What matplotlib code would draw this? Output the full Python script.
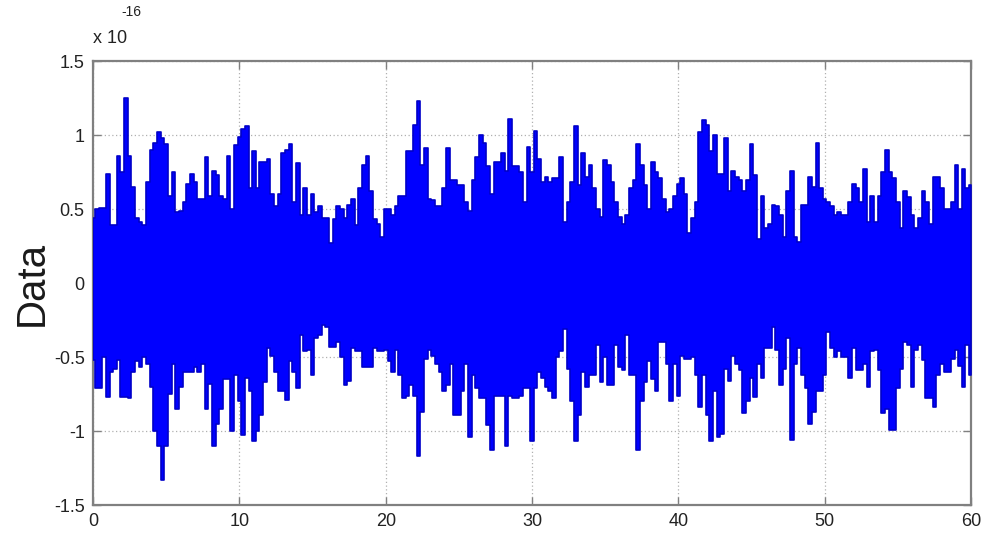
import numpy as np
import matplotlib
matplotlib.use("Agg")
import matplotlib.pyplot as plt

# sample positions (time), step 0.25 from 0 to 60
t_start, t_stop, t_step = 0.0, 60.0, 0.25

# upper envelope of the signal (units of 1e-16)
upper = [
    0.44, 0.5, 0.51, 0.51, 0.74, 0.39, 0.39, 0.86, 0.75, 1.25,
    0.86, 0.65, 0.44, 0.41, 0.39, 0.68, 0.9, 0.95, 1.02, 0.98,
    0.94, 0.59, 0.75, 0.48, 0.49, 0.55, 0.67, 0.74, 0.68, 0.57,
    0.57, 0.85, 0.59, 0.76, 0.73, 0.59, 0.57, 0.86, 0.5, 0.93,
    0.99, 1.04, 1.06, 0.64, 0.89, 0.64, 0.82, 0.82, 0.84, 0.6,
    0.52, 0.6, 0.88, 0.9, 0.94, 0.55, 0.81, 0.46, 0.64, 0.46,
    0.6, 0.48, 0.52, 0.44, 0.44, 0.27, 0.43, 0.52, 0.5, 0.44,
    0.53, 0.57, 0.39, 0.64, 0.8, 0.86, 0.62, 0.43, 0.4, 0.31,
    0.5, 0.5, 0.46, 0.52, 0.59, 0.59, 0.89, 0.89, 1.07, 1.23,
    0.8, 0.91, 0.57, 0.56, 0.52, 0.52, 0.64, 0.91, 0.7, 0.7,
    0.66, 0.66, 0.55, 0.49, 0.7, 0.85, 1.0, 0.95, 0.79, 0.6,
    0.82, 0.82, 0.88, 0.76, 1.11, 0.79, 0.79, 0.75, 0.55, 0.92,
    0.75, 1.03, 0.84, 0.68, 0.72, 0.68, 0.71, 0.71, 0.85, 0.41,
    0.55, 0.68, 1.06, 0.66, 0.88, 0.72, 0.8, 0.64, 0.5, 0.45,
    0.83, 0.8, 0.68, 0.55, 0.45, 0.4, 0.46, 0.64, 0.7, 0.94,
    0.8, 0.66, 0.5, 0.82, 0.75, 0.71, 0.57, 0.48, 0.5, 0.59,
    0.67, 0.71, 0.6, 0.34, 0.44, 0.55, 1.02, 1.1, 1.07, 0.89,
    1.0, 0.74, 0.74, 0.98, 0.62, 0.76, 0.72, 0.7, 0.62, 0.7,
    0.94, 0.73, 0.3, 0.59, 0.37, 0.4, 0.53, 0.52, 0.46, 0.31,
    0.62, 0.76, 0.31, 0.28, 0.53, 0.53, 0.72, 0.65, 0.95, 0.64,
    0.57, 0.55, 0.52, 0.46, 0.48, 0.46, 0.46, 0.55, 0.67, 0.64,
    0.55, 0.77, 0.41, 0.59, 0.41, 0.59, 0.75, 0.9, 0.75, 0.71,
    0.55, 0.37, 0.62, 0.58, 0.46, 0.37, 0.44, 0.62, 0.55, 0.4,
    0.72, 0.72, 0.64, 0.5, 0.5, 0.55, 0.8, 0.5, 0.77, 0.64,
    0.66,
]

# lower envelope of the signal (units of 1e-16)
lower = [
    -0.52, -0.71, -0.71, -0.5, -0.77, -0.6, -0.58, -0.52, -0.77, -0.77,
    -0.78, -0.6, -0.53, -0.57, -0.5, -0.55, -0.7, -1.0, -1.1, -1.33,
    -1.1, -0.75, -0.55, -0.85, -0.7, -0.6, -0.6, -0.6, -0.57, -0.6,
    -0.55, -0.85, -0.68, -1.1, -0.95, -0.85, -0.65, -0.65, -1.0, -0.62,
    -0.8, -1.03, -0.64, -0.73, -1.07, -1.0, -0.89, -0.67, -0.44, -0.49,
    -0.6, -0.73, -0.73, -0.79, -0.53, -0.6, -0.71, -0.35, -0.46, -0.45,
    -0.62, -0.37, -0.35, -0.28, -0.3, -0.43, -0.43, -0.4, -0.5, -0.69,
    -0.66, -0.44, -0.46, -0.46, -0.57, -0.57, -0.57, -0.44, -0.46, -0.46,
    -0.45, -0.53, -0.6, -0.45, -0.62, -0.78, -0.76, -0.69, -0.76, -1.17,
    -0.87, -0.51, -0.45, -0.49, -0.55, -0.6, -0.73, -0.69, -0.55, -0.89,
    -0.89, -0.73, -0.55, -1.04, -0.62, -0.71, -0.78, -0.78, -0.96, -1.13,
    -0.76, -0.76, -0.76, -1.1, -0.76, -0.78, -0.78, -0.76, -0.71, -0.71,
    -1.07, -0.71, -0.6, -0.64, -0.7, -0.73, -0.78, -0.5, -0.46, -0.31,
    -0.58, -0.8, -1.07, -0.89, -0.6, -0.7, -0.62, -0.62, -0.42, -0.67,
    -0.5, -0.69, -0.69, -0.42, -0.57, -0.59, -0.35, -0.62, -0.62, -1.13,
    -0.8, -0.67, -0.53, -0.65, -0.73, -0.4, -0.4, -0.55, -0.8, -0.55,
    -0.76, -0.49, -0.51, -0.51, -0.5, -0.62, -0.84, -0.62, -0.89, -1.07,
    -0.73, -1.04, -1.02, -0.58, -0.66, -0.49, -0.55, -0.59, -0.88, -0.8,
    -0.64, -0.77, -0.55, -0.64, -0.44, -0.44, -0.3, -0.45, -0.69, -0.58,
    -0.37, -1.06, -0.55, -0.44, -0.62, -0.71, -0.95, -0.87, -0.73, -0.73,
    -0.62, -0.33, -0.44, -0.5, -0.46, -0.5, -0.5, -0.64, -0.44, -0.59,
    -0.59, -0.55, -0.7, -0.46, -0.45, -0.59, -0.88, -0.85, -0.99, -0.99,
    -0.71, -0.58, -0.4, -0.42, -0.7, -0.45, -0.42, -0.52, -0.78, -0.78,
    -0.84, -0.62, -0.55, -0.6, -0.6, -0.51, -0.45, -0.56, -0.7, -0.42,
    -0.62,
]

x_ticks = [0, 10, 20, 30, 40, 50, 60]
y_ticks = [-1.5, -1, -0.5, 0, 0.5, 1, 1.5]
y_tick_labels = ["-1.5", "-1", "-0.5", "0", "0.5", "1", "1.5"]
y_label = "Data"

t = np.arange(t_start, t_stop + t_step / 2, t_step)
hi = np.array(upper)
lo = np.array(lower)

plt.rcParams['font.family'] = ['Liberation Sans', 'DejaVu Sans']

fig = plt.figure(figsize=(9.92, 5.5), dpi=100)
ax = fig.add_axes([0.0938, 0.0818, 0.885, 0.807])

ax.fill_between(t, lo, hi, step='mid', facecolor='#0000ff',
                edgecolor='#0000c8', linewidth=1.2, zorder=3)

ax.set_xlim(0, 60)
ax.set_ylim(-1.5, 1.5)
ax.set_xticks(x_ticks)
ax.set_xticklabels([str(v) for v in x_ticks])
ax.set_yticks(y_ticks)
ax.set_yticklabels(y_tick_labels)

ax.grid(True, linestyle=(0, (1, 2)), color='#b0b0b0', linewidth=0.9, zorder=1)
ax.set_axisbelow(True)

for s in ax.spines.values():
    s.set_color('#808080')
    s.set_linewidth(1.6)

ax.tick_params(direction='in', length=6, width=1, colors='#808080',
               top=True, right=True, labelsize=13, labelcolor='#222222', pad=6)

ax.set_ylabel(y_label, fontsize=29, color='#1a1a1a', labelpad=2)

fig.text(0.094, 0.915, "x 10", fontsize=13, color='#222222', ha='left', va='bottom')
fig.text(0.122, 0.965, "-16", fontsize=10, color='#222222', ha='left', va='bottom')

fig.savefig("out.png", dpi=100)
